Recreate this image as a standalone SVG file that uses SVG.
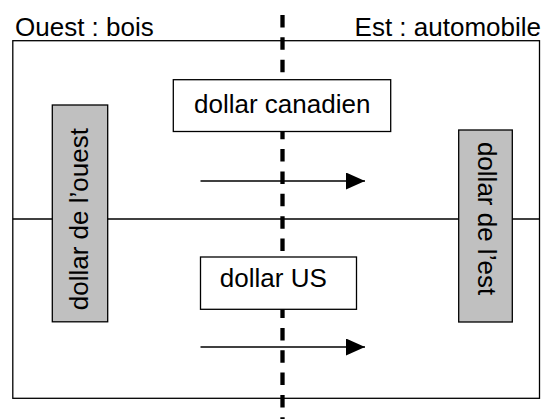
<svg xmlns="http://www.w3.org/2000/svg" width="542" height="419" viewBox="0 0 542 419">
  <style>
    .t { font-family: "Liberation Sans", Arial, sans-serif; font-size: 26px; fill: #000; }
    .box { fill: #fff; stroke: #000; stroke-width: 1.3; }
    .gray { fill: #c0c0c0; stroke: #000; stroke-width: 1.3; }
    .ln { stroke: #000; stroke-width: 1.3; fill: none; }
  </style>
  <defs>
    <marker id="ah" viewBox="0 0 19 17" refX="19" refY="8.5" markerWidth="19" markerHeight="17" markerUnits="userSpaceOnUse" orient="auto">
      <path d="M0,0 L19,8.5 L0,17 Z" fill="#000"/>
    </marker>
  </defs>
  <rect width="542" height="419" fill="#fff"/>
  <g id="frame">
    <rect x="12.8" y="40.7" width="526.7" height="357.6" class="ln"/>
    <line x1="12.8" y1="219" x2="539.5" y2="219" class="ln"/>
    <text x="15" y="36" class="t">Ouest : bois</text>
    <text x="541" y="36" class="t" text-anchor="end">Est : automobile</text>
  </g>
  <g id="connectors">
    <line x1="200.5" y1="181" x2="365" y2="181" class="ln" marker-end="url(#ah)"/>
    <line x1="200.5" y1="347" x2="365" y2="347" class="ln" marker-end="url(#ah)"/>
  </g>
  <g id="border">
    <line x1="282.5" y1="15" x2="282.5" y2="419" stroke="#000" stroke-width="4.3" stroke-dasharray="12.5 9.85"/>
  </g>
  <g id="node-canadien">
    <rect x="173.3" y="79.7" width="217.4" height="51.8" class="box"/>
    <text x="282.2" y="113" class="t" text-anchor="middle">dollar canadien</text>
  </g>
  <g id="node-us">
    <rect x="200.5" y="257" width="156" height="52.3" class="box"/>
    <text x="273.3" y="286.7" class="t" text-anchor="middle">dollar US</text>
  </g>
  <g id="node-ouest">
    <rect x="52.3" y="105" width="55.4" height="216.8" class="gray"/>
    <text transform="translate(88.3,219.2) rotate(-90)" class="t" text-anchor="middle">dollar de l’ouest</text>
  </g>
  <g id="node-est">
    <rect x="458.7" y="130" width="53.6" height="192" class="gray"/>
    <text transform="translate(477.5,218.5) rotate(90)" class="t" text-anchor="middle">dollar de l’est</text>
  </g>
</svg>
